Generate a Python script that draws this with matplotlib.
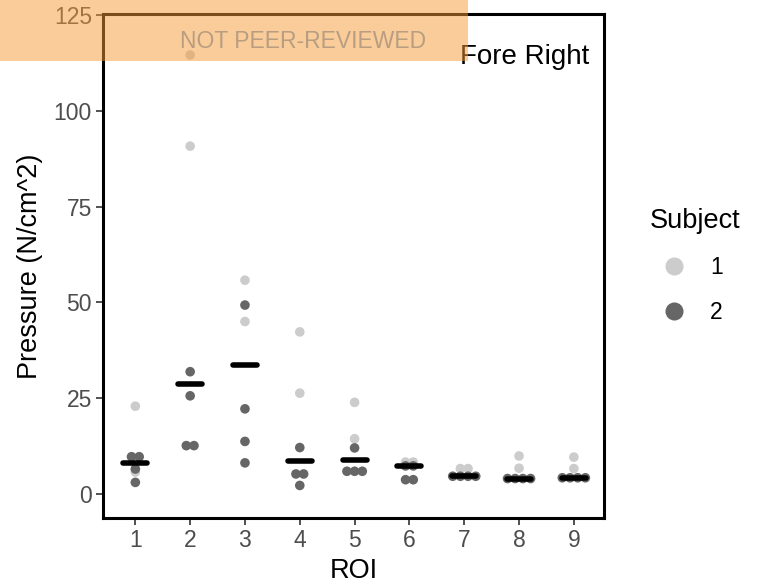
import numpy as np
import matplotlib
matplotlib.use("Agg")
import matplotlib.pyplot as plt
from matplotlib.lines import Line2D
from matplotlib.patches import Rectangle

plt.rcParams["font.family"] = ["Liberation Sans", "DejaVu Sans"]

# pressure values per ROI
roi = [1, 2, 3, 4, 5, 6, 7, 8, 9]
subj1 = [
    [22.9, 5.7],
    [114.6, 90.8],
    [55.8, 45.0],
    [42.3, 26.3],
    [23.9, 14.4],
    [8.3, 8.3],
    [6.6, 6.6],
    [9.9, 6.7],
    [9.6, 6.6],
]
subj2 = [
    [9.7, 9.7, 6.5, 3.0],
    [31.9, 25.6, 12.6, 12.6],
    [49.3, 22.2, 13.7, 8.1],
    [12.1, 5.2, 5.2, 2.2],
    [12.0, 5.9, 5.9, 5.9],
    [7.3, 7.3, 3.7, 3.7],
    [4.6, 4.6, 4.6, 4.6],
    [4.0, 4.0, 4.0, 4.0],
    [4.2, 4.2, 4.2, 4.2],
]
subjects = ["1", "2"]
colors = ["#CCCCCC", "#666666"]


def swarm_offsets(vals, step=0.14, tol=0.3):
    # equal values get laid out side by side, centred on the category
    vals = np.asarray(vals, dtype=float)
    offs = np.zeros(len(vals))
    used = np.zeros(len(vals), dtype=bool)
    for i in range(len(vals)):
        if used[i]:
            continue
        grp = [j for j in range(len(vals)) if not used[j] and abs(vals[j] - vals[i]) < tol]
        n = len(grp)
        for k, j in enumerate(grp):
            offs[j] = (k - (n - 1) / 2) * step
            used[j] = True
    return offs


fig = plt.figure(figsize=(7.58, 5.88), dpi=100)
ax = fig.add_axes([103 / 758, 1 - 518 / 588, (604 - 103) / 758, (518 - 14) / 588])

for i, r in enumerate(roi):
    allv = subj1[i] + subj2[i]
    grp = [0] * len(subj1[i]) + [1] * len(subj2[i])
    offs = swarm_offsets(allv)
    for g in (0, 1):
        xs = [r + offs[k] for k in range(len(allv)) if grp[k] == g]
        ys = [allv[k] for k in range(len(allv)) if grp[k] == g]
        ax.scatter(xs, ys, s=48, color=colors[g], edgecolors="none", zorder=2 + g)
    med = np.median(allv)
    ax.plot([r - 0.22, r + 0.22], [med, med], color="black", lw=4,
            solid_capstyle="round", zorder=5)

ax.set_xlim(0.41, 9.55)
ax.set_ylim(-6.3, 125.3)
ax.set_xticks(roi)
ax.set_yticks([0, 25, 50, 75, 100, 125])
ax.tick_params(axis="both", labelsize=16.5, labelcolor="#4D4D4D", color="#333333",
               length=5, width=1.2, pad=3)
for sp in ax.spines.values():
    sp.set_linewidth(2.2)
    sp.set_color("black")
ax.set_xlabel("ROI", fontsize=19.5, labelpad=4)
ax.set_ylabel("Pressure (N/cm^2)", fontsize=19.5, labelpad=8)

ax.text(0.97, 0.915, "Fore Right", transform=ax.transAxes, ha="right", va="center",
        fontsize=20)

handles = [Line2D([], [], marker="o", ls="none", ms=13, color=c, mec="none") for c in colors]
leg = fig.legend(handles, subjects, title="Subject", loc="upper left",
                 bbox_to_anchor=(650 / 758, 1 - 208 / 588), frameon=False,
                 fontsize=16.5, title_fontsize=19.5, handlelength=2.09,
                 handletextpad=0.52, labelspacing=0.95, borderpad=0, borderaxespad=0,
                 alignment="left")

# preprint banner on top
fig.add_artist(Rectangle((0, 1 - 61 / 588), 468 / 758, 61 / 588, transform=fig.transFigure,
                         facecolor="#F59B37", alpha=0.5, edgecolor="none", zorder=10))
fig.text(303 / 758, 1 - 41 / 588, "NOT PEER-REVIEWED", ha="center", va="center",
         fontsize=16.5, color="#5E5E5E", alpha=0.42, zorder=11)

fig.savefig("out.png", dpi=100)
